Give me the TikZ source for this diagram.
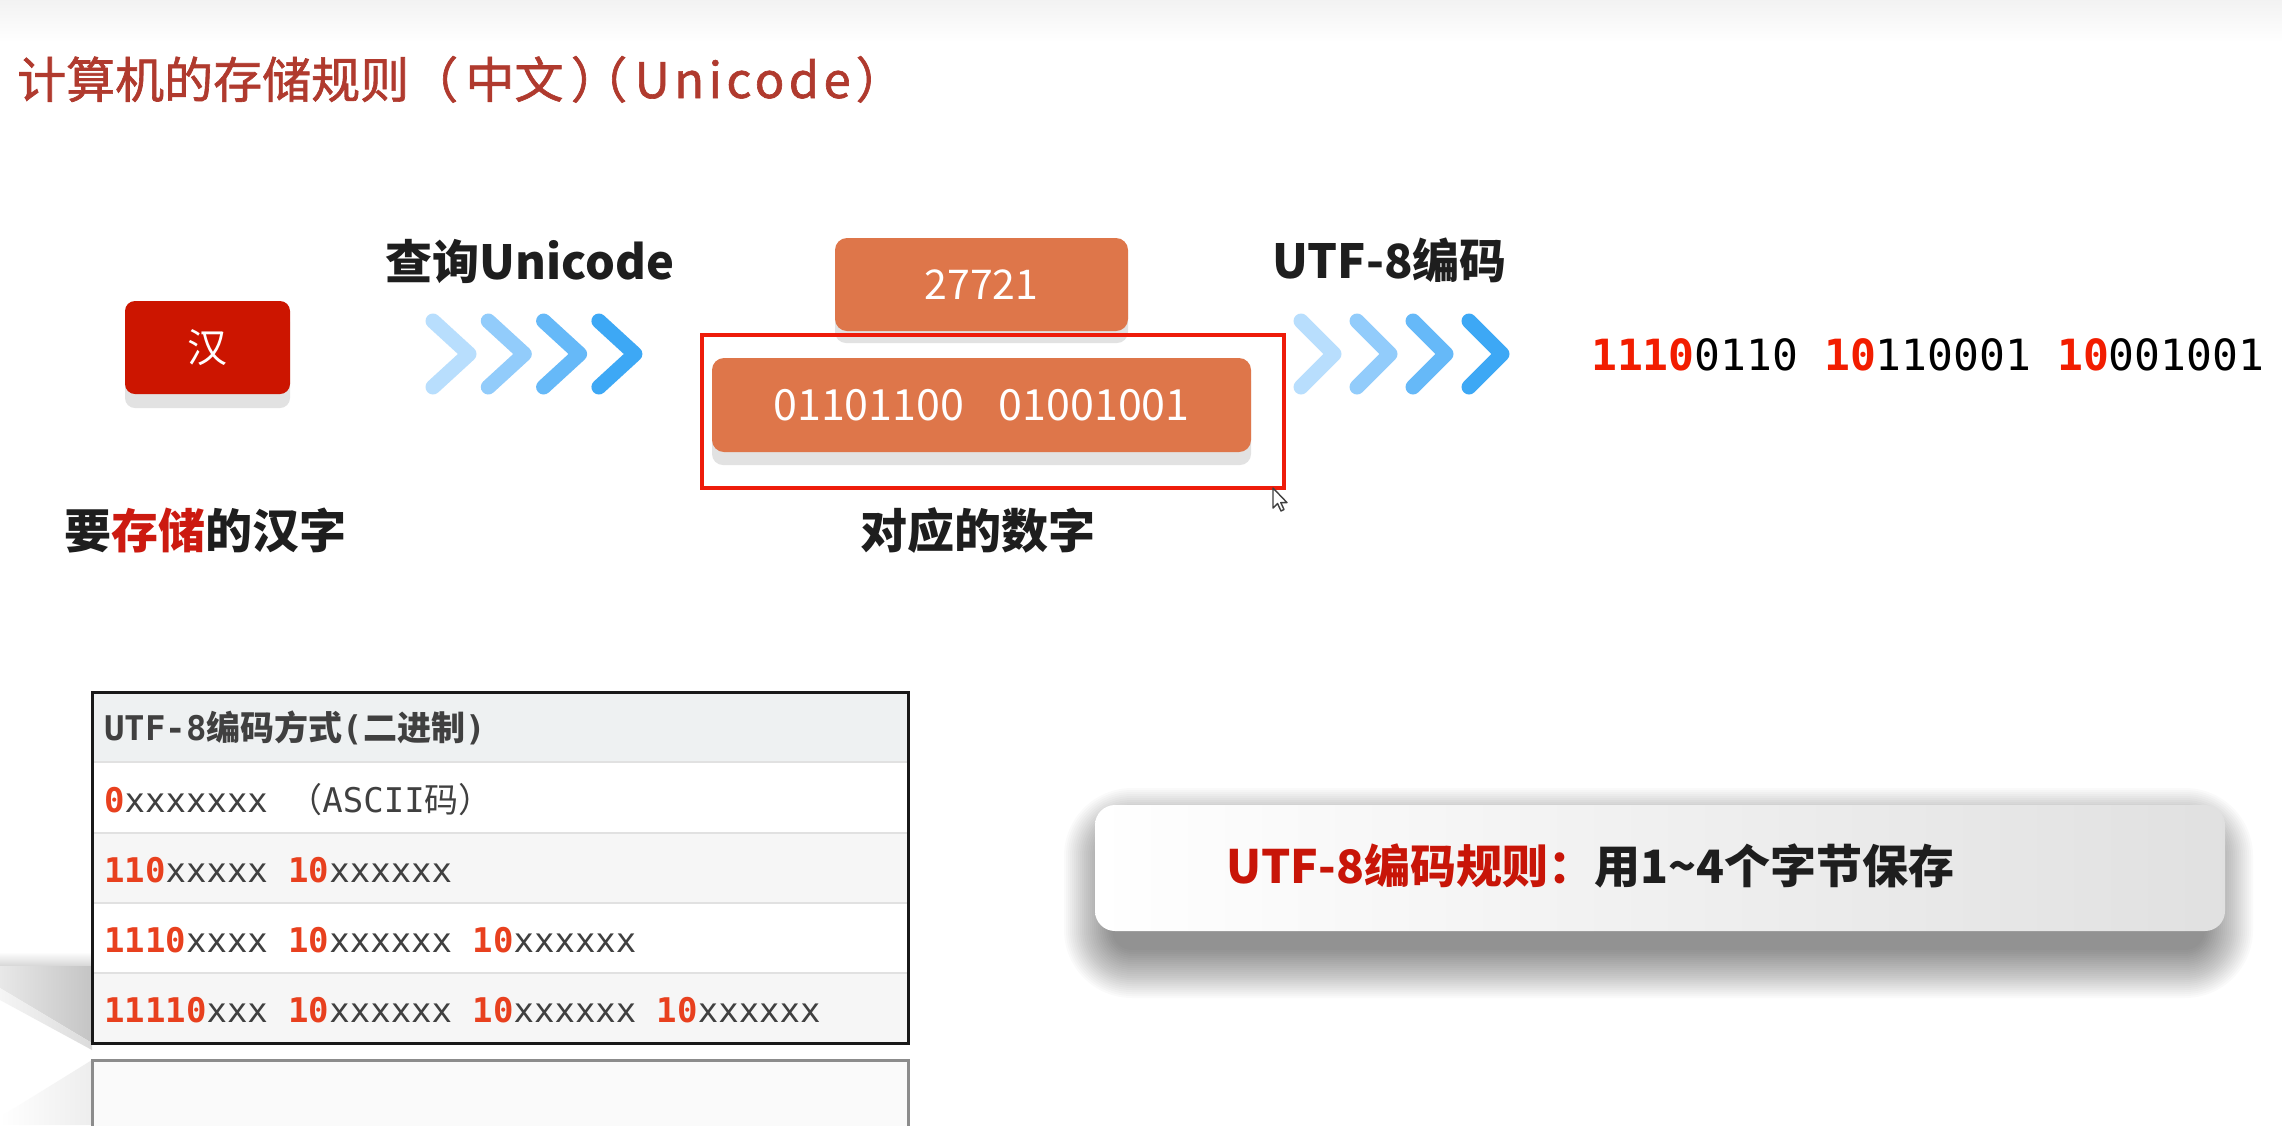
\documentclass[tikz,border=0pt]{standalone}
\usepackage{fontspec}
\newfontfamily\cjk{Noto Sans CJK SC}
\newfontfamily\cjktitle{Noto Sans CJK SC}[FakeBold=1.3]
\newfontfamily\mono{DejaVu Sans Mono}
\definecolor{titlec}{HTML}{B03A2E}
\definecolor{hanred}{HTML}{CC1500}
\definecolor{orangebox}{HTML}{DE764A}
\definecolor{framered}{HTML}{EE1C0A}
\definecolor{lblc}{HTML}{1E1E1E}
\definecolor{redtxt}{HTML}{CC1A10}
\definecolor{outred}{HTML}{F21D00}
\definecolor{tred}{HTML}{E8401E}
\definecolor{xgray}{HTML}{404040}
\definecolor{hdrbg}{HTML}{EEF1F2}
\definecolor{rowalt}{HTML}{F6F6F6}
\definecolor{sepc}{HTML}{E1E1E1}
\definecolor{rulered}{HTML}{C81508}
\definecolor{shadowc}{HTML}{E2E2E2}
\definecolor{chA}{HTML}{B8DEFD}
\definecolor{chB}{HTML}{92CCFB}
\definecolor{chC}{HTML}{66B9F8}
\definecolor{chD}{HTML}{3DA8F5}
\tikzset{
  lbl/.style={inner sep=0pt, text=lblc, font={\cjk\bfseries\fontsize{47}{52}\selectfont}},
  boxshadow/.style={fill=shadowc, draw=none, rounded corners=11pt},
  orangenode/.style={fill=orangebox, draw=none, rounded corners=12pt, text=white, inner sep=0pt},
  chev/.style={line width=15pt, line cap=round, line join=round},
  rowtext/.style={anchor=base west, inner sep=0pt, text=xgray, font={\mono\fontsize{34}{38}\selectfont}},
  softshadow/.style={fill=black, fill opacity=0.02, draw=none},
}
\newcommand{\rb}[1]{{\color{tred}\bfseries #1}}
\newcommand{\ob}[1]{{\color{outred}\bfseries #1}}
\newcommand{\chevrons}[3]{%
  \foreach \cc [count=\i from 0] in {chA,chB,chC,chD}{
    \draw[chev, \cc] ({#1+\i*#2+8},321) -- ({#1+\i*#2+#3-8},354) -- ({#1+\i*#2+8},387);
  }}
\begin{document}
\begin{tikzpicture}[x=1pt,y=-1pt]
\useasboundingbox (0,0) rectangle (2282,1125);
\fill[white] (0,0) rectangle (2282,1125);
\shade[top color=black!5, bottom color=white] (0,0) rectangle (2282,42);
% faint left wedge shadow
\shade[top color=white, bottom color=black!16, draw=none] (0,952) rectangle (92,966);
\shade[left color=black!9, right color=black!23, draw=none] (0,966) -- (92,966) -- (92,1043) -- (0,988) -- cycle;
\shade[left color=black!4, right color=black!14, draw=none] (0,988) -- (92,1043) -- (92,1050) -- (0,1000) -- cycle;
\shade[left color=white, right color=black!7, draw=none] (0,1117) -- (92,1060) -- (92,1125) -- (0,1125) -- cycle;

% title
\node[anchor=base west, inner sep=0pt, text=titlec, font={\cjktitle\fontsize{49}{54}\selectfont}] (title) at (17,98) {计算机的存储规则（\hspace{0.15em}中文\hspace{0.15em}）\hspace{-0.85em}（\hspace{0.15em}{\addfontfeatures{LetterSpace=9}Unicode}\hspace{0.1em}）};

% han box
\fill[boxshadow, rounded corners=10pt] (125,312) rectangle (290,408);
\node[fill=hanred, rounded corners=10pt, minimum width=165pt, minimum height=93pt, inner sep=0pt, text=white, font={\cjk\fontsize{40}{44}\selectfont}] (han) at (207.5,347.5) {汉};
\node[lbl] (hanlbl) at (205,531) {要{\color{redtxt}存储}的汉字};

% lookup label and chevrons
\node[lbl] (lookup) at (530,262) {查询Unicode};
\chevrons{425}{55.3}{52}

% number boxes
\fill[boxshadow] (835,250) rectangle (1128,343);
\node[orangenode, minimum width=293pt, minimum height=93pt, font={\cjk\fontsize{41}{45}\selectfont}] (dec) at (981.5,284.5) {27721};
\fill[boxshadow] (712,370) rectangle (1251,465);
\node[orangenode, minimum width=539pt, minimum height=94pt, font={\cjk\fontsize{43}{47}\selectfont}] (bin) at (981.5,405) {01101100\hspace{0.8em}01001001};
\draw[framered, line width=4pt] (702,335) rectangle (1284,488);
\node[lbl] (numlbl) at (978,531) {对应的数字};
% mouse cursor
\coordinate (tip) at (1273,488);
\draw[black!75, fill=white, line width=1.4pt, line join=round, shift={(tip)}] (0,0) -- (0,20) -- (4.5,15.5) -- (8,23) -- (11,21.5) -- (7.8,14.6) -- (14,14.6) -- cycle;

% utf-8 label and chevrons
\node[lbl] (utf) at (1389.5,260) {UTF-8编码};
\chevrons{1293}{56}{49}

% output bytes
\node[anchor=base west, inner sep=0pt, text=black, font={\mono\fontsize{43}{48}\selectfont}] (out) at (1591,370) {\ob{1110}0110 \ob{10}110001 \ob{10}001001};

% table
\fill[hdrbg] (92,692) rectangle (908,762);
\fill[white] (92,762) rectangle (908,833);
\fill[rowalt] (92,833) rectangle (908,903);
\fill[white] (92,903) rectangle (908,973);
\fill[rowalt] (92,973) rectangle (908,1043);
\foreach \yy in {762,833,903,973}{\draw[sepc, line width=2pt] (92,\yy) -- (908,\yy);}
\draw[black!90, line width=3pt] (92,692) rectangle (908,1043);
\node[rowtext, text=black!75, font={\bfseries\mono\fontsize{34}{38}\selectfont}] (hdr) at (104,740) {UTF-8{\cjk 编码方式}({\cjk 二进制})};
\node[rowtext] (r1) at (104,812) {\rb{0}xxxxxxx {\cjk （}ASCII{\cjk 码）}};
\node[rowtext] (r2) at (104,882) {\rb{110}xxxxx \rb{10}xxxxxx};
\node[rowtext] (r3) at (104,952) {\rb{1110}xxxx \rb{10}xxxxxx \rb{10}xxxxxx};
\node[rowtext] (r4) at (104,1022) {\rb{11110}xxx \rb{10}xxxxxx \rb{10}xxxxxx \rb{10}xxxxxx};
% lower box
\fill[black!2] (92,1060) rectangle (908,1135);
\draw[black!45, line width=3pt] (92,1135) -- (92,1060) -- (908,1060) -- (908,1135);

% rule box soft shadow
\foreach \r in {0,2,...,48}{
  \fill[softshadow, rounded corners={20pt+\r*1pt}] ({1112-\r},{836-\r}) rectangle ({2205+\r},{950+\r});
}
\node[draw=none, rounded corners=20pt, minimum width=1130pt, minimum height=126pt, inner sep=0pt,
      left color=white, right color=black!12] (rule) at (1660,868) {};
\node[anchor=west, inner sep=0pt, font={\cjk\bfseries\fontsize{46}{50}\selectfont}, text=lblc] (ruletext) at (1226,866) {{\color{rulered}UTF-8编码规则：}用1\textasciitilde4个字节保存};
\end{tikzpicture}
\end{document}
